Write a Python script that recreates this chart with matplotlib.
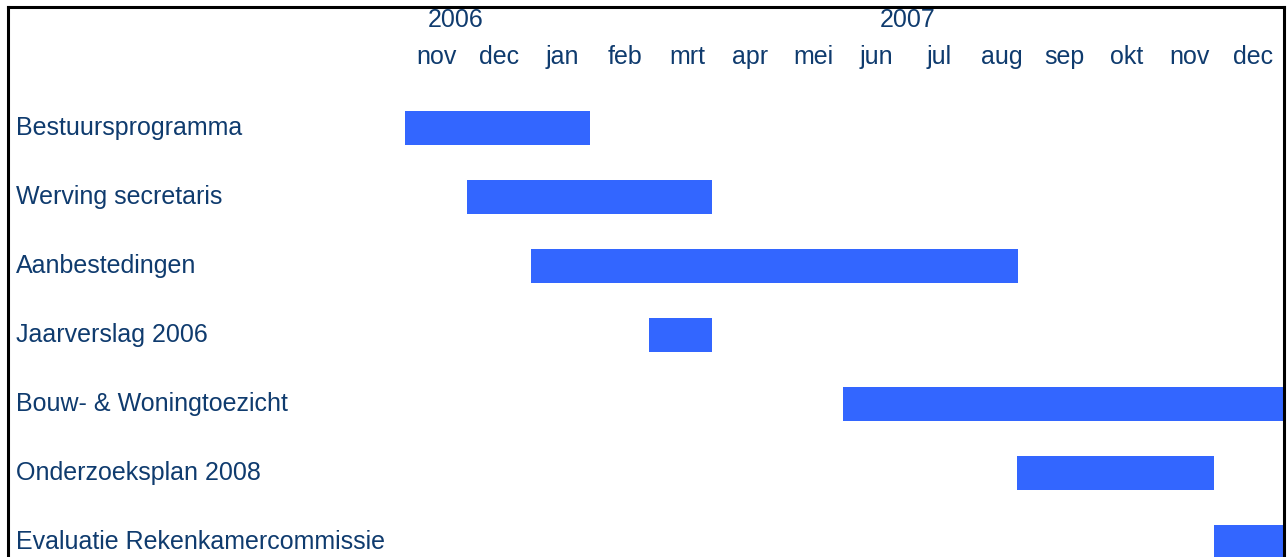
import matplotlib
matplotlib.use("Agg")
import matplotlib.pyplot as plt
from matplotlib.lines import Line2D
import matplotlib.transforms as mtransforms

# tasks and their span, in months counted from 1 nov 2006
tasks = ["Bestuursprogramma", "Werving secretaris", "Aanbestedingen",
         "Jaarverslag 2006", "Bouw- & Woningtoezicht", "Onderzoeksplan 2008",
         "Evaluatie Rekenkamercommissie"]
start = [0.0, 0.99, 2.0, 3.89, 6.98, 9.75, 12.88]
end = [2.95, 4.89, 9.76, 4.89, 14.5, 12.88, 14.5]

months = ["nov", "dec", "jan", "feb", "mrt", "apr", "mei",
          "jun", "jul", "aug", "sep", "okt", "nov", "dec"]
years = ["2006", "2007"]
year_month = [0.8, 8.0]   # month position of year label

text_col = "#0F3B6E"
bar_col = "#3366FF"
plt.rcParams["font.family"] = ["Liberation Sans", "DejaVu Sans"]

W, H = 1287, 557
fig = plt.figure(figsize=(W / 100, H / 100), dpi=100)
x0, x1 = 405, 1284
ax = fig.add_axes([x0 / W, 0, (x1 - x0) / W, 1])
ax.set_xlim(0, 14)
row0, step = 128, 69
ax.set_ylim((H - row0) / step, -row0 / step)
ax.axis("off")

for i, t in enumerate(tasks):
    ax.barh(i, end[i] - start[i], left=start[i], height=0.49,
            color=bar_col, edgecolor="none")
    fig.text(16 / W, 1 - (row0 + step * i) / H, t, fontsize=18,
             color=text_col, va="center", ha="left")

trans = mtransforms.blended_transform_factory(ax.transData, fig.transFigure)
for j, m in enumerate(months):
    ax.text(j + 0.5, 1 - 57 / H, m, transform=trans, fontsize=18,
            color=text_col, ha="center", va="center")
for y, p in zip(years, year_month):
    ax.text(p, 1 - 20 / H, y, transform=trans, fontsize=18,
            color=text_col, ha="center", va="center")

# frame (open at the bottom)
lw = 2.2
fig.add_artist(Line2D([7.5 / W, 1284 / W], [1 - 6.5 / H, 1 - 6.5 / H],
                      color="black", lw=lw, transform=fig.transFigure))
fig.add_artist(Line2D([7.5 / W, 7.5 / W], [0, 1 - 6.5 / H],
                      color="black", lw=lw, transform=fig.transFigure))
fig.add_artist(Line2D([1284 / W, 1284 / W], [0, 1 - 6.5 / H],
                      color="black", lw=lw, transform=fig.transFigure))

fig.savefig("out.png", dpi=100)
